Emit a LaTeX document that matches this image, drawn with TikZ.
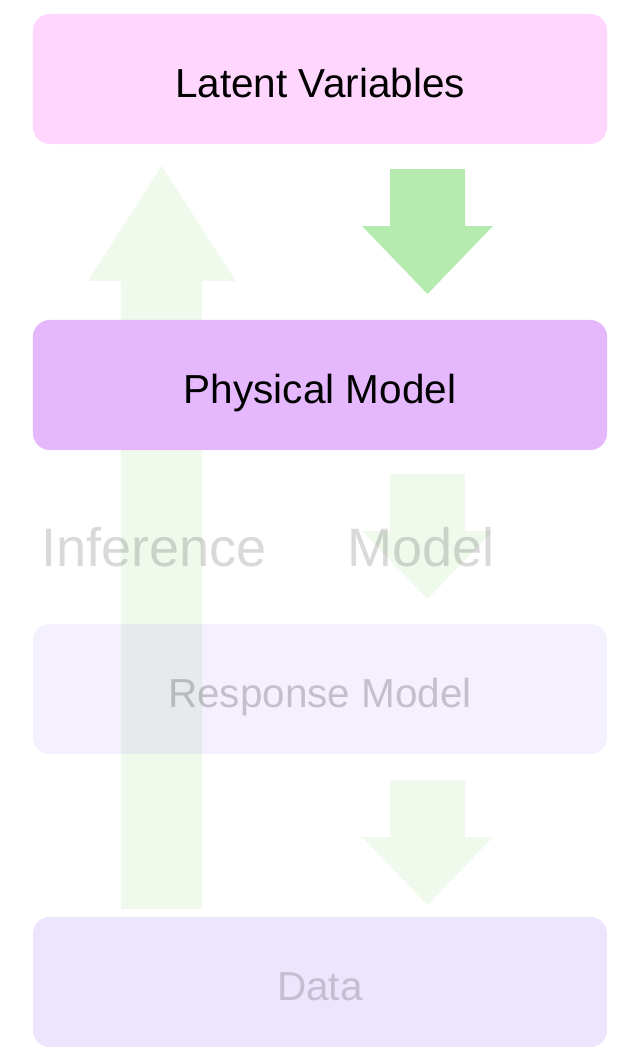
\documentclass[tikz,border=0pt]{standalone}
\usepackage{fontspec}
\setmainfont{Liberation Sans}
\usetikzlibrary{positioning}
\definecolor{clatent}{HTML}{FFD6FE}
\definecolor{cphys}{HTML}{E5B8FD}
\definecolor{cviolet}{HTML}{9B6BF5}
\definecolor{cgreen}{HTML}{B6EBAF}
\definecolor{cpale}{HTML}{EFF9EC}
\newcommand\boxfont{\fontsize{28.8}{35}\selectfont}
\newcommand\bigfont{\fontsize{38.5}{46}\selectfont}
\tikzset{
  every picture/.style={x=0.025cm, y=-0.025cm},
  box/.style={fill=#1, rounded corners=0.42cm, minimum width=14.35cm, minimum height=3.25cm,
    inner sep=0pt, text height=0.925cm, text depth=0pt, font=\boxfont},
  faded/.style={fill opacity=#1, text opacity=0.2},
  label/.style={font=\bigfont, text=black, text opacity=0.15, anchor=base},
}
\begin{document}
\begin{tikzpicture}
  \useasboundingbox (0,0) rectangle (625,1047);
  % inference arrow, runs up behind the boxes
  \fill[cpale] (121,909) -- (121,281) -- (88,281) -- (161.5,166) -- (236,281) -- (202,281) -- (202,909) -- cycle;
  % model arrows
  \foreach \i/\y/\c in {1/169/cgreen, 2/474/cpale, 3/780/cpale} {
    \fill[\c] (390,\y) -- (465,\y) -- (465,\y+57) -- (493,\y+57) -- (427.5,\y+125) -- (362,\y+57) -- (390,\y+57) -- cycle;
  }
  \node[box=clatent] (latent) at (320,79) {Latent Variables};
  \node[box=cphys] (physical) at (320,385) {Physical Model};
  \node[box=cviolet, faded=0.1] (response) at (320,689) {Response Model};
  \node[box=cviolet, faded=0.18, text opacity=0.17] (data) at (320,982) {Data};
  \node[label] (inference) at (154,566) {Inference};
  \node[label] (model) at (421,566) {Model};
\end{tikzpicture}
\end{document}
